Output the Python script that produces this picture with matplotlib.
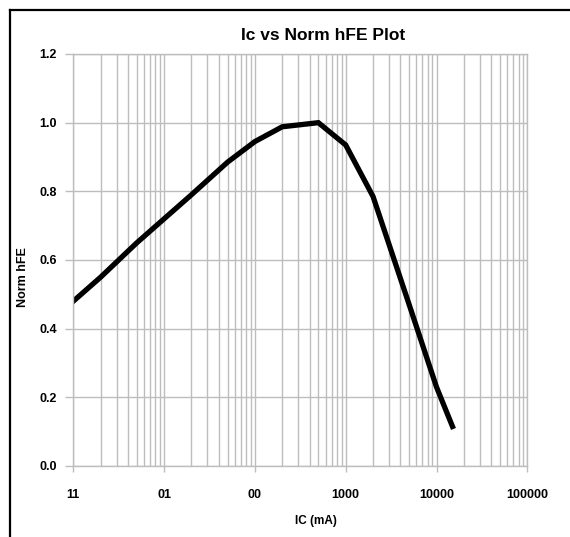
import matplotlib
matplotlib.use('Agg')
import matplotlib.pyplot as plt
from matplotlib.lines import Line2D
from matplotlib.ticker import FixedLocator, LogLocator, NullFormatter

# Data
ic_ma = [1, 2, 5, 10, 20, 50, 100, 200, 500, 1000, 2000, 5000, 10000, 15000]
norm_hfe = [0.48, 0.55, 0.65, 0.72, 0.79, 0.885, 0.945, 0.988, 1.0, 0.935, 0.785, 0.47, 0.23, 0.115]

x_ticks = [1, 10, 100, 1000, 10000, 100000]
x_tick_labels = ['11', '01', '00', '1000', '10000', '100000']
y_ticks = [0.0, 0.2, 0.4, 0.6, 0.8, 1.0, 1.2]

plt.rcParams['font.family'] = ['Liberation Sans', 'DejaVu Sans']

W, H = 570, 537
fig = plt.figure(figsize=(W / 100, H / 100), dpi=100)

# plot area in pixels: x 73..527, y 54..466
left, right, top, bottom = 73.3, 527.3, 54, 466
ax = fig.add_axes([left / W, 1 - bottom / H, (right - left) / W, (bottom - top) / H])

ax.plot(ic_ma, norm_hfe, color='black', linewidth=3.8, solid_joinstyle='miter')

ax.set_xscale('log')
ax.set_xlim(1, 100000)
ax.set_ylim(0, 1.2)

grid_col = '#bdbdbd'
ax.xaxis.set_major_locator(FixedLocator(x_ticks))
ax.xaxis.set_minor_locator(LogLocator(base=10, subs=range(2, 10)))
ax.xaxis.set_minor_formatter(NullFormatter())
ax.set_xticks(x_ticks)
ax.set_xticklabels(x_tick_labels)
ax.set_yticks(y_ticks)
ax.set_yticklabels([f'{v:.1f}' for v in y_ticks])

ax.grid(True, which='major', axis='both', color=grid_col, linewidth=1.0)
ax.grid(True, which='minor', axis='x', color=grid_col, linewidth=1.0)
ax.set_axisbelow(True)

for s in ax.spines.values():
    s.set_color(grid_col)
    s.set_linewidth(1.0)

ax.tick_params(axis='x', which='major', length=4.2, width=1.0, color=grid_col, pad=12,
               labelsize=9)
ax.tick_params(axis='x', which='minor', length=0)
ax.tick_params(axis='y', which='major', length=5.8, width=1.0, color=grid_col, pad=6,
               labelsize=9)
for lab in ax.get_xticklabels() + ax.get_yticklabels():
    lab.set_fontweight('bold')

fig.text(323 / W, 1 - 35 / H, 'Ic vs Norm hFE Plot', ha='center', va='center',
         fontsize=12.5, fontweight='bold')
fig.text(316 / W, 1 - 521 / H, 'IC (mA)', ha='center', va='center',
         fontsize=8.5, fontweight='bold')
fig.text(23.5 / W, 1 - 277 / H, 'Norm hFE', ha='center', va='center', rotation=90,
         fontsize=9, fontweight='bold')

# outer chart frame, cut off at right and bottom like the reference
fig.add_artist(Line2D([9.5 / W, 1.05], [1 - 10 / H, 1 - 10 / H], color='black',
                      linewidth=1.6, transform=fig.transFigure))
fig.add_artist(Line2D([9.5 / W, 9.5 / W], [1 - 10 / H, -0.05], color='black',
                      linewidth=1.6, transform=fig.transFigure))

fig.savefig('out.png', dpi=100)
